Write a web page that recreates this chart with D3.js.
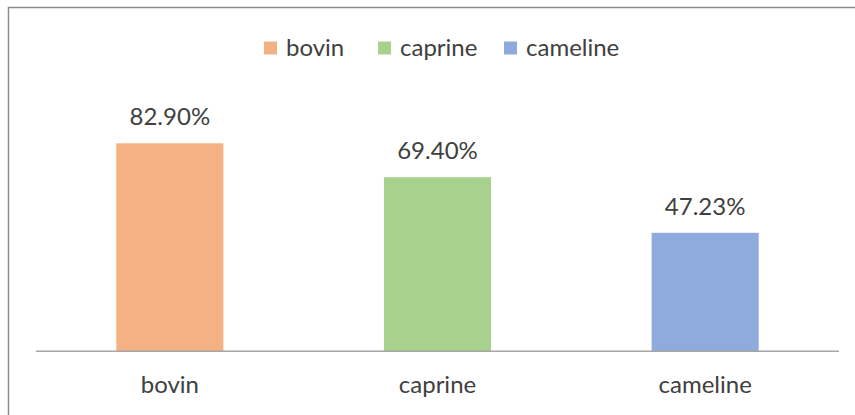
<!DOCTYPE html>
<html>
<head>
<meta charset="utf-8">
<script src="https://cdn.jsdelivr.net/npm/d3@7"></script>
<style>
  html, body { margin: 0; padding: 0; background: #fff; }
  svg { display: block; }
  text { font-family: Lato, "Open Sans", sans-serif; fill: #404040; }
</style>
</head>
<body>
<svg id="chart" width="855" height="415"></svg>
<script>
// Share of each milk type
const categories = ["bovin", "caprine", "cameline"];
const values = [82.90, 69.40, 47.23];
const valueLabels = ["82.90%", "69.40%", "47.23%"];
const colors = ["#F4B183", "#A9D18E", "#8FAADC"];

const svg = d3.select("#chart");
const plot = { left: 36, right: 839, top: 100.4, bottom: 351.3 };
const fontSize = "24px";

// Outer frame (runs past the right and bottom edges)
svg.append("rect")
  .attr("x", 8.5).attr("y", 7.5)
  .attr("width", 900).attr("height", 500)
  .attr("fill", "none")
  .attr("stroke", "#8c8c8c")
  .attr("stroke-width", 1.5);

const x = d3.scaleBand()
  .domain(categories)
  .range([plot.left, plot.right])
  .paddingInner(0.6)
  .paddingOuter(0.3);

const y = d3.scaleLinear()
  .domain([0, 100])
  .range([plot.bottom, plot.top]);

// Bars
svg.append("g").selectAll("rect")
  .data(categories)
  .join("rect")
  .attr("x", d => x(d))
  .attr("y", (d, i) => y(values[i]))
  .attr("width", x.bandwidth())
  .attr("height", (d, i) => y(0) - y(values[i]))
  .attr("fill", (d, i) => colors[i]);

// Value labels above bars
svg.append("g").selectAll("text")
  .data(categories)
  .join("text")
  .attr("x", d => x(d) + x.bandwidth() / 2)
  .attr("y", (d, i) => y(values[i]) - 18)
  .attr("text-anchor", "middle")
  .style("font-size", fontSize)
  .text((d, i) => valueLabels[i]);

// Category axis
const xAxis = svg.append("g")
  .attr("transform", `translate(0,${plot.bottom})`)
  .call(d3.axisBottom(x).tickSize(0).tickPadding(25));
xAxis.select(".domain")
  .attr("d", `M${plot.left},0H${plot.right}`)
  .attr("stroke", "#a6a6a6")
  .attr("stroke-width", 1.5);
xAxis.selectAll("text")
  .attr("dy", "0.71em")
  .style("font-size", fontSize)
  .style("font-family", "Lato, 'Open Sans', sans-serif")
  .attr("fill", "#404040");

// Legend
const legendItems = [
  { x: 264, label: categories[0], color: colors[0] },
  { x: 378, label: categories[1], color: colors[1] },
  { x: 504, label: categories[2], color: colors[2] }
];
const legend = svg.append("g");
const li = legend.selectAll("g")
  .data(legendItems)
  .join("g")
  .attr("transform", d => `translate(${d.x},0)`);
li.append("rect")
  .attr("x", 0).attr("y", 41.5)
  .attr("width", 13).attr("height", 13)
  .attr("fill", d => d.color);
li.append("text")
  .attr("x", 22).attr("y", 56)
  .style("font-size", fontSize)
  .text(d => d.label);
</script>
</body>
</html>
